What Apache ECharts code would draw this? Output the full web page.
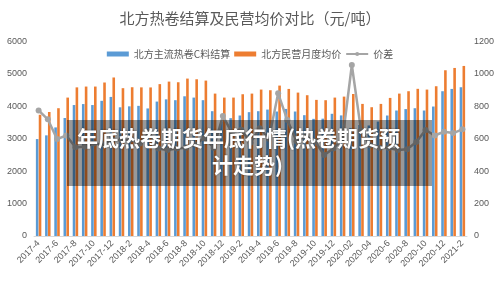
<!DOCTYPE html>
<html>
<head>
<meta charset="utf-8">
<script src="https://cdn.jsdelivr.net/npm/echarts@6/dist/echarts.min.js"></script>
<style>
  html, body { margin: 0; padding: 0; background: #fff; }
  #chart { width: 500px; height: 308px; }
</style>
</head>
<body>
<div id="chart"></div>
<script>
// 月份
const months = [
  "2017-4", "2017-5", "2017-6", "2017-7", "2017-8", "2017-9", "2017-10", "2017-11", "2017-12",
  "2018-1", "2018-2", "2018-3", "2018-4", "2018-5", "2018-6", "2018-7", "2018-8", "2018-9",
  "2018-10", "2018-11", "2018-12",
  "2019-1", "2019-2", "2019-3", "2019-4", "2019-5", "2019-6", "2019-7", "2019-8", "2019-9",
  "2019-10", "2019-11", "2019-12",
  "2020-01", "2020-02", "2020-03", "2020-04", "2020-05", "2020-6", "2020-7", "2020-8", "2020-9",
  "2020-10", "2020-11", "2020-12",
  "2021-1", "2021-2"
];
// 北方主流热卷C料结算
const settlePrice = [
  2990, 3105, 3350, 3640, 4040, 4070, 4040, 4170, 4290,
  3970, 4000, 4015, 3935, 4147, 4215, 4190, 4310, 4270,
  4190, 3850, 3530,
  3635, 3717, 3820, 3850, 3900, 3840, 3920, 3840, 3727,
  3614, 3620, 3770,
  3720, 3325, 3425, 3410, 3530, 3717, 3871, 3915, 3942,
  3871, 3994, 4466,
  4537, 4589
];
// 北方民营月度均价
const privatePrice = [
  3740, 3825, 3942, 4270, 4585, 4610, 4610, 4735, 4890,
  4560, 4589, 4585, 4583, 4685, 4763, 4743, 4856, 4835,
  4794, 4393, 4270,
  4270, 4373, 4393, 4517, 4497, 4640, 4537, 4424, 4343,
  4199, 4189, 4270,
  4300, 4380, 4075, 3973, 4075, 4260, 4393, 4466, 4540,
  4517, 4620, 5113,
  5184, 5246
];
// 价差
const spread = [
  775, 720, 598, 620, 548, 550, 570, 565, 595,
  590, 595, 570, 640, 540, 530, 540, 545, 565,
  605, 545, 740,
  636, 656, 575, 665, 600, 880, 715, 585, 615,
  585, 500, 540,
  600, 1055, 650, 560, 545, 543, 530, 535, 580,
  654, 620, 643,
  635, 658
];

const textColor = "#595959";
const fontFamily = "'Liberation Sans', 'Noto Sans CJK SC', sans-serif";

const chart = echarts.init(document.getElementById("chart"));

const option = {
  animation: false,
  textStyle: { fontFamily: fontFamily },
  title: {
    text: "北方热卷结算及民营均价对比（元/吨）",
    left: "center",
    top: 6,
    textStyle: {
      color: textColor,
      fontSize: 15,
      fontWeight: "normal",
      fontFamily: "'Noto Sans CJK SC', sans-serif",
    },
  },
  legend: {
    top: 44,
    left: "center",
    itemWidth: 22,
    itemHeight: 5,
    itemGap: 4,
    textStyle: {
      color: textColor,
      fontSize: 10,
      fontFamily: "'Noto Sans CJK SC', sans-serif",
    },
    data: [
      { name: "北方主流热卷C料结算", icon: "rect" },
      { name: "北方民营月度均价", icon: "rect" },
      { name: "价差" },
    ],
  },
  grid: {
    left: 34,
    right: 33,
    top: 41.5,
    bottom: 72,
  },
  xAxis: {
    type: "category",
    data: months,
    axisTick: { show: false },
    axisLine: { lineStyle: { color: "#d9d9d9" } },
    axisLabel: {
      color: textColor,
      fontSize: 9,
      interval: 1,
      rotate: 45,
      margin: 6,
    },
  },
  yAxis: [
    {
      type: "value",
      min: 0,
      max: 6000,
      interval: 1000,
      splitLine: { show: false },
      axisLine: { show: false },
      axisTick: { show: false },
      axisLabel: { color: textColor, fontSize: 9, margin: 7, formatter: (v) => String(v) },
    },
    {
      type: "value",
      min: 0,
      max: 1200,
      interval: 200,
      splitLine: { show: false },
      axisLine: { show: false },
      axisTick: { show: false },
      axisLabel: { color: textColor, fontSize: 9, margin: 7, formatter: (v) => String(v) },
    },
  ],
  series: [
    {
      name: "北方主流热卷C料结算",
      type: "bar",
      data: settlePrice,
      barWidth: 2.6,
      barGap: "10%",
      itemStyle: { color: "#5b9bd5" },
    },
    {
      name: "北方民营月度均价",
      type: "bar",
      data: privatePrice,
      barWidth: 2.6,
      barGap: "10%",
      itemStyle: { color: "#ed7d31" },
    },
    {
      name: "价差",
      type: "line",
      yAxisIndex: 1,
      data: spread,
      symbol: "circle",
      symbolSize: 6,
      lineStyle: { color: "#a5a5a5", width: 2.5 },
      itemStyle: { color: "#a5a5a5" },
      z: 3,
    },
  ],
  graphic: [
    {
      type: "rect",
      shape: { x: 67, y: 120, width: 365, height: 66 },
      style: { fill: "rgba(0,0,0,0.4)" },
      z: 100,
    },
    {
      type: "text",
      x: 77,
      y: 138,
      style: {
        text: "年底热卷期货年底行情(热卷期货预",
        fill: "#fff",
        font: "bold 21px 'Noto Sans CJK SC', sans-serif",
        verticalAlign: "middle",
        textShadowColor: "rgba(0,0,0,0.5)",
        textShadowBlur: 2,
      },
      z: 101,
    },
    {
      type: "text",
      x: 212,
      y: 165,
      style: {
        text: "计走势)",
        fill: "#fff",
        font: "bold 21px 'Noto Sans CJK SC', sans-serif",
        verticalAlign: "middle",
        textShadowColor: "rgba(0,0,0,0.5)",
        textShadowBlur: 2,
      },
      z: 101,
    },
  ],
};

chart.setOption(option);
</script>
</body>
</html>
